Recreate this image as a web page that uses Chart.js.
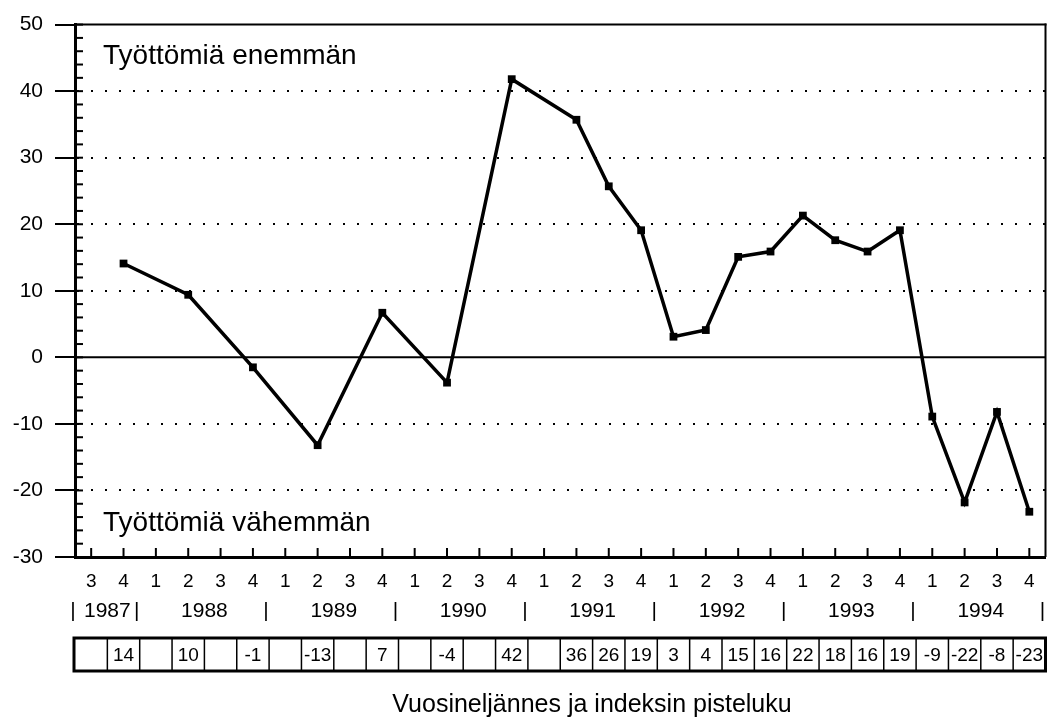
<!DOCTYPE html>
<html><head><meta charset="utf-8">
<script src="https://cdn.jsdelivr.net/npm/chart.js@4/dist/chart.umd.min.js"></script>
<style>html,body{margin:0;padding:0;background:#fff}#wrap{width:1051px;height:718px}</style>
</head><body><div id="wrap"><canvas id="c" width="1051" height="718"></canvas></div>
<script>
// ---- data ----
const quarterLabels = ['3','4','1','2','3','4','1','2','3','4','1','2','3','4','1','2','3','4','1','2','3','4','1','2','3','4','1','2','3','4'];
const yearLabels = ['1987','1988','1989','1990','1991','1992','1993','1994'];
const yearQuarterCounts = [2,4,4,4,4,4,4,4];
const indexValues = [null,14.1,null,9.4,null,-1.5,null,-13.2,null,6.7,null,-3.8,null,41.8,null,35.7,25.7,19.1,3.1,4.1,15.1,15.9,21.3,17.6,15.9,19.1,-8.9,-21.8,-8.2,-23.2];
const tableLabels = ['','14','','10','','-1','','-13','','7','','-4','','42','','36','26','19','3','4','15','16','22','18','16','19','-9','-22','-8','-23'];
const yMin = -30, yMax = 50, yStep = 10, yMinorStep = 2;
const upperNote = 'Työttömiä enemmän';
const lowerNote = 'Työttömiä vähemmän';
const xTitle = 'Vuosineljännes ja indeksin pisteluku';

const FONT = '"Liberation Sans", Arial, Helvetica, sans-serif';

function seg(ctx, x1, y1, x2, y2) { ctx.beginPath(); ctx.moveTo(x1, y1); ctx.lineTo(x2, y2); ctx.stroke(); }

const decor = {
  id: 'decor',
  beforeDatasetsDraw(chart) {
    const { ctx, chartArea: a, scales: { x, y } } = chart;
    ctx.save();
    ctx.strokeStyle = '#000';
    ctx.lineWidth = 2;
    const y0 = y.getPixelForValue(0);
    seg(ctx, a.left, y0, a.right, y0);
    seg(ctx, a.left, a.top, a.right + 1, a.top);
    seg(ctx, a.right, a.top - 1, a.right, a.bottom);
    for (let v = yMin; v <= yMax; v += yMinorStep) {
      const py = y.getPixelForValue(v);
      seg(ctx, a.left, py, a.left + 8, py);
    }
    for (let i = 0; i < quarterLabels.length; i++) {
      const px = x.getPixelForValue(i);
      seg(ctx, px, a.bottom, px, a.bottom - 9);
    }
    ctx.restore();
  },
  afterDraw(chart) {
    const { ctx, chartArea: a, scales: { x, y } } = chart;
    const n = quarterLabels.length;
    const bound = k => k === 0 ? x.left : (k === n ? x.right : (x.getPixelForValue(k - 1) + x.getPixelForValue(k)) / 2);
    ctx.save();
    ctx.fillStyle = '#000';
    ctx.strokeStyle = '#000';
    ctx.textAlign = 'center';
    ctx.textBaseline = 'middle';
    // quarter row
    ctx.font = '19px ' + FONT;
    quarterLabels.forEach((q, i) => ctx.fillText(q, x.getPixelForValue(i), a.bottom + 25));
    // year row
    ctx.font = '21px ' + FONT;
    let k = 0;
    const yy = a.bottom + 54;
    ctx.fillText('|', bound(0) - 2, yy);
    yearLabels.forEach((yr, j) => {
      const s = bound(k), e = bound(k + yearQuarterCounts[j]);
      ctx.fillText(yr, (s + e) / 2, yy);
      k += yearQuarterCounts[j];
      ctx.fillText('|', e - 3, yy);
    });
    // table
    const tTop = a.bottom + 81, tBot = a.bottom + 114;
    ctx.lineWidth = 1.5;
    for (let i = 1; i < n; i++) seg(ctx, bound(i), tTop, bound(i), tBot);
    ctx.lineWidth = 3;
    ctx.strokeRect(bound(0) - 1, tTop, bound(n) - bound(0) + 1, tBot - tTop);
    ctx.font = '19px ' + FONT;
    tableLabels.forEach((t, i) => { if (t) ctx.fillText(t, x.getPixelForValue(i), (tTop + tBot) / 2 + 1); });
    // notes
    ctx.textAlign = 'left';
    ctx.textBaseline = 'alphabetic';
    ctx.font = '28px ' + FONT;
    ctx.fillText(upperNote, a.left + 28, a.top + 39);
    ctx.fillText(lowerNote, a.left + 28, a.top + 506);
    // title
    ctx.textAlign = 'center';
    ctx.font = '25px ' + FONT;
    ctx.fillText(xTitle, 592, 712);
    ctx.restore();
  }
};

new Chart(document.getElementById('c'), {
  type: 'line',
  data: {
    labels: quarterLabels,
    datasets: [{
      data: indexValues,
      borderColor: '#000',
      borderWidth: 3.5,
      backgroundColor: '#000',
      pointStyle: 'rect',
      pointRadius: 5.5,
      pointBorderWidth: 0,
      pointBackgroundColor: '#000',
      spanGaps: true,
      tension: 0,
      clip: false
    }]
  },
  options: {
    responsive: false,
    animation: false,
    events: [],
    layout: { padding: { top: 23, right: 4, left: 0, bottom: 0 } },
    plugins: { legend: { display: false }, tooltip: { enabled: false } },
    scales: {
      x: {
        type: 'category',
        offset: true,
        grid: { display: false, drawTicks: false },
        border: { display: true, color: '#000', width: 3 },
        ticks: { display: false },
        afterFit: s => { s.height = 161; }
      },
      y: {
        min: yMin, max: yMax,
        grid: {
          color: c => (c.tick.value === 0 || c.tick.value === yMin || c.tick.value === yMax) ? 'rgba(0,0,0,0)' : '#000',
          lineWidth: 2,
          tickLength: 20,
          tickColor: '#000',
          tickWidth: 2,
          drawTicks: true
        },
        border: { display: true, color: '#000', width: 3, dash: [2, 12] },
        ticks: { stepSize: yStep, padding: 12, color: '#000', font: { family: FONT, size: 21 } },
        afterFit: s => { s.width = 75; }
      }
    }
  },
  plugins: [decor]
});
</script>
</body></html>
